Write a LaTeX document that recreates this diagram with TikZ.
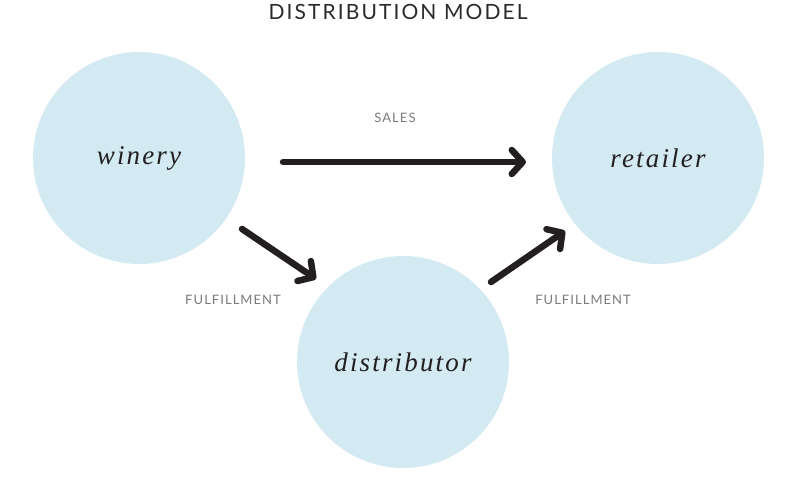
\documentclass[tikz,border=0pt]{standalone}
\usepackage{fontspec}
\usetikzlibrary{arrows.meta}
\newfontfamily\titlefont{Lato}[LetterSpace=10]
\newfontfamily\labfont{Lato}[LetterSpace=8]
\newfontfamily\nameit{Liberation Serif}[LetterSpace=8]
\definecolor{circ}{HTML}{D3EAF3}
\definecolor{arr}{HTML}{231F20}
\definecolor{lab}{HTML}{7A7A7A}
\definecolor{ttl}{HTML}{2A2A2A}
\tikzset{
  party/.style={circle,fill=circ,minimum size=212pt,inner sep=0pt,
    font=\nameit\itshape\fontsize{27}{27}\selectfont,text=arr},
  flow/.style={line width=6.5pt,draw=arr,line cap=round,
    -{Straight Barb[length=11pt,width=24pt,line cap=round,line join=round]}},
  flowlab/.style={font=\labfont\fontsize{13}{13}\selectfont,text=lab},
}
\begin{document}
\begin{tikzpicture}[x=1pt,y=-1pt]
\useasboundingbox (0,0) rectangle (799,502);
\node[font=\titlefont\fontsize{21}{21}\selectfont,text=ttl] (title) at (398,12) {DISTRIBUTION MODEL};
\node[party] (winery) at (139,158) {winery};
\node[party] (retailer) at (658,158) {retailer};
\node[party] (distributor) at (403,362) {distributor};
\coordinate (s1) at (283,162);
\coordinate (s2) at (526,162);
\coordinate (f1a) at (242,229);
\coordinate (f1b) at (316,279);
\coordinate (f2a) at (491,282);
\coordinate (f2b) at (565,231);
\draw[flow] (s1) -- (s2);
\draw[flow] (f1a) -- (f1b);
\draw[flow] (f2a) -- (f2b);
\node[flowlab] (sales) at (395,118) {SALES};
\node[flowlab] (ful1) at (233,300) {FULFILLMENT};
\node[flowlab] (ful2) at (583,300) {FULFILLMENT};
\end{tikzpicture}
\end{document}
